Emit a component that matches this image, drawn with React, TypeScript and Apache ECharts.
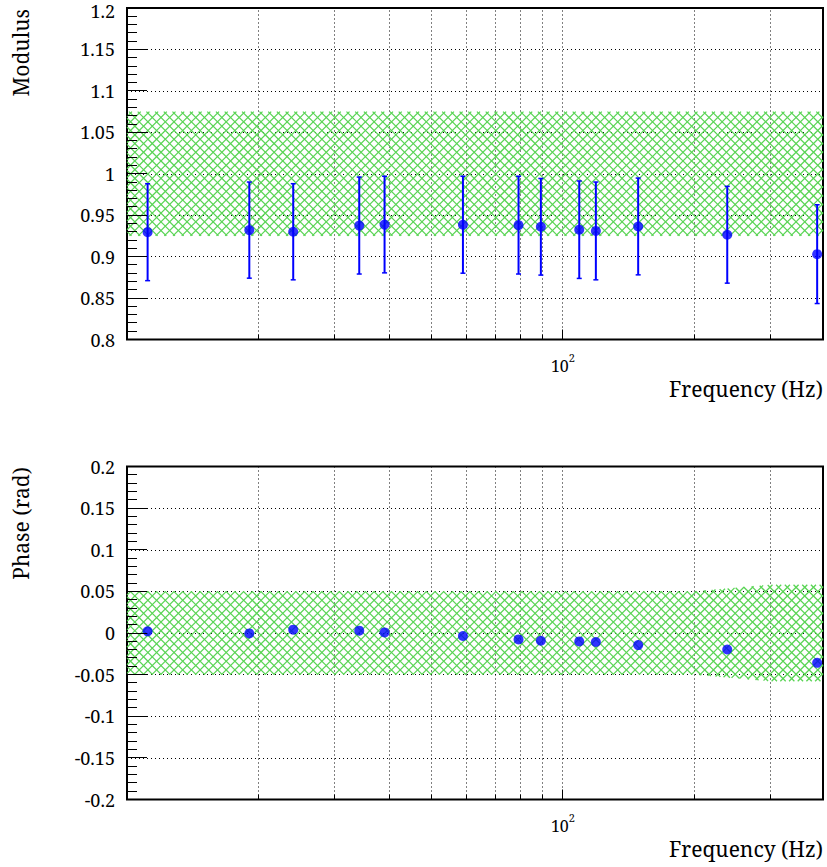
import React, { useEffect, useRef } from 'react';
import * as echarts from 'echarts';

// ---------------- data ----------------
const freq = [11.15, 19.08, 24.06, 34.1, 38.98, 58.97, 79.1, 89.0, 109.0, 119.0, 148.8, 238.2, 383.0];
const modulus = [0.9295, 0.932, 0.930, 0.9375, 0.9387, 0.9385, 0.938, 0.936, 0.9325, 0.931, 0.9364, 0.9264, 0.903];
const modulusErr = [0.0585, 0.058, 0.058, 0.0585, 0.0583, 0.0585, 0.059, 0.0583, 0.0588, 0.059, 0.0584, 0.0584, 0.0596];
const phase = [0.002, -0.0005, 0.004, 0.0028, 0.0007, -0.0036, -0.0077, -0.0093, -0.0101, -0.0108, -0.0145, -0.0198, -0.0358];

const modBandFreq = [10, 395];
const modBandLow = [0.925, 0.925];
const modBandHigh = [1.075, 1.075];

const phaseBandFreq = [10, 200, 300, 395];
const phaseBandLow = [-0.05, -0.05, -0.058, -0.058];
const phaseBandHigh = [0.05, 0.05, 0.058, 0.058];

const gridFreq = [20, 30, 40, 50, 60, 70, 80, 90, 100, 200, 300];
const majorFreq = [100];

const xMin = 10;
const xMax = 395;
const modYMin = 0.8;
const modYMax = 1.2;
const phaseYMin = -0.2;
const phaseYMax = 0.2;
const yInterval = 0.05;
const yMinorSteps = 5;

const xTitle = 'Frequency (Hz)';
const modTitle = 'Modulus';
const phaseTitle = 'Phase (rad)';

// ---------------- styles ----------------
const FONT = 'Noto Serif';
const BLUE = '#0000ff';
const HATCH = '#59d454';
const HATCH_STEP = 8.7;

function fmt(v: number) {
  return String(parseFloat(v.toFixed(3)));
}

function evalAt(pts: number[][], x: number) {
  const n = pts.length;
  if (x <= pts[0][0]) return pts[0][1];
  if (x >= pts[n - 1][0]) return pts[n - 1][1];
  for (let k = 0; k < n - 1; k++) {
    const a = pts[k];
    const b = pts[k + 1];
    if (x <= b[0]) {
      const t = (x - a[0]) / (b[0] - a[0] || 1);
      return a[1] + t * (b[1] - a[1]);
    }
  }
  return pts[n - 1][1];
}

function rootInc(fn: (x: number) => number, lo: number, hi: number) {
  let a = lo;
  let b = hi;
  for (let i = 0; i < 60; i++) {
    const m = (a + b) / 2;
    if (fn(m) > 0) b = m;
    else a = m;
  }
  return (a + b) / 2;
}

function hatchLines(top: number[][], bot: number[][]) {
  const x0 = top[0][0];
  const x1 = top[top.length - 1][0];
  const T = (x: number) => evalAt(top, x);
  const B = (x: number) => evalAt(bot, x);
  const ys = top.map((p) => p[1]).concat(bot.map((p) => p[1]));
  const yMinPx = Math.min(...ys);
  const yMaxPx = Math.max(...ys);
  const lo = x0 - 3000;
  const hi = x1 + 3000;
  const out: number[][] = [];
  const d = HATCH_STEP;
  for (let k = Math.floor((yMinPx - x1) / d); k <= Math.ceil((yMaxPx - x0) / d); k++) {
    const c = k * d;
    const xT = rootInc((x) => x + c - T(x), lo, hi);
    const xB = rootInc((x) => x + c - B(x), lo, hi);
    const s = Math.max(x0, xT);
    const e = Math.min(x1, xB);
    if (e > s) out.push([s, s + c, e, e + c]);
  }
  for (let k = Math.floor((yMinPx + x0) / d); k <= Math.ceil((yMaxPx + x1) / d); k++) {
    const c = k * d;
    const xT = rootInc((x) => T(x) + x - c, lo, hi);
    const xB = rootInc((x) => B(x) + x - c, lo, hi);
    const s = Math.max(x0, xB);
    const e = Math.min(x1, xT);
    if (e > s) out.push([s, -s + c, e, -e + c]);
  }
  return out;
}

const crisp = (v: number) => Math.round(v - 0.5) + 0.5;

export default function App() {
  const ref = useRef<HTMLDivElement>(null);

  useEffect(() => {
    if (!ref.current) return;
    const chart = echarts.init(ref.current, null, { renderer: 'svg' });

    const grids = [
      { left: 127, top: 8, width: 696, height: 331.5 },
      { left: 127, top: 466.5, width: 696, height: 333 },
    ];
    const yRanges = [
      [modYMin, modYMax],
      [phaseYMin, phaseYMax],
    ];

    const xAxes = grids.map((_, i) => ({
      type: 'log',
      logBase: 10,
      gridIndex: i,
      min: xMin,
      max: xMax,
      axisLine: { show: false, onZero: false },
      axisTick: { show: false },
      splitLine: { show: false },
      minorTick: { show: false },
      axisLabel: {
        margin: 12.5,
        formatter: (v: number) => (Math.abs(Math.log10(v) - 2) < 1e-6 ? '{a|10}{b|2}' : ''),
        rich: {
          a: { fontFamily: FONT, fontSize: 16, color: '#000', verticalAlign: 'bottom', padding: [6, 0, 0, 0] },
          b: { fontFamily: FONT, fontSize: 11, color: '#000', verticalAlign: 'top' },
        },
      },
    }));

    const yAxes = grids.map((_, i) => ({
      type: 'value',
      gridIndex: i,
      min: yRanges[i][0],
      max: yRanges[i][1],
      interval: yInterval,
      axisLine: { show: false },
      axisTick: { show: false },
      minorTick: { show: false },
      splitLine: { show: true, lineStyle: { color: '#000', width: 1, type: [1, 3] } },
      minorSplitLine: { show: false },
      axisLabel: {
        fontFamily: FONT,
        fontSize: 18,
        color: '#000',
        margin: 12,
        formatter: (v: number) =>
          i === 0 && Math.abs(v - yRanges[i][1]) < 1e-9 ? '{t|' + fmt(v) + '}' : fmt(v),
        rich: {
          t: { fontFamily: FONT, fontSize: 18, color: '#000', padding: [6, 0, 0, 0] },
        },
      },
    }));

    const gridSeries = (i: number) => ({
      type: 'custom',
      xAxisIndex: i,
      yAxisIndex: i,
      z: 1,
      silent: true,
      data: gridFreq.map((f) => [f, yRanges[i][0], yRanges[i][1]]),
      encode: { x: 0, y: [1, 2] },
      renderItem: (params: any, api: any) => {
        const f = api.value(0);
        const bot = api.coord([f, api.value(1)]);
        const top = api.coord([f, api.value(2)]);
        const x = crisp(bot[0]);
        const len = majorFreq.indexOf(f) >= 0 ? 10 : 5;
        return {
          type: 'group',
          children: [
            {
              type: 'line',
              shape: { x1: x, y1: bot[1], x2: x, y2: top[1] },
              style: { stroke: '#000', lineWidth: 1, lineDash: [1, 3] },
            },
            {
              type: 'line',
              shape: { x1: x, y1: bot[1], x2: x, y2: bot[1] - len },
              style: { stroke: '#000', lineWidth: 1 },
            },
          ],
        };
      },
    });

    // y ticks (major every interval, minor subdivisions)
    const yTickSeries = (i: number) => {
      const [a, b] = yRanges[i];
      const step = yInterval / yMinorSteps;
      const n = Math.round((b - a) / step);
      const vals: number[][] = [];
      for (let k = 0; k <= n; k++) vals.push([xMin, a + k * step, k % yMinorSteps === 0 ? 1 : 0]);
      return {
        type: 'custom',
        xAxisIndex: i,
        yAxisIndex: i,
        z: 5,
        silent: true,
        data: vals,
        encode: { x: 0, y: 1 },
        renderItem: (params: any, api: any) => {
          const p = api.coord([api.value(0), api.value(1)]);
          const len = api.value(2) ? 20 : 10;
          const y = crisp(p[1]);
          return {
            type: 'line',
            shape: { x1: p[0], y1: y, x2: p[0] + len, y2: y },
            style: { stroke: '#000', lineWidth: 1 },
          };
        },
      };
    };

    const bandSeries = (i: number, bx: number[], lo: number[], hi: number[]) => ({
      type: 'custom',
      xAxisIndex: i,
      yAxisIndex: i,
      z: 2,
      silent: true,
      data: bx.map((f, k) => [f, lo[k], hi[k]]),
      encode: { x: 0, y: [1, 2] },
      renderItem: (params: any, api: any) => {
        if (params.dataIndex !== 0) return null;
        const n = bx.length;
        const topPts: number[][] = [];
        const botPts: number[][] = [];
        for (let k = 0; k < n; k++) {
          topPts.push(api.coord([api.value(0, k), api.value(2, k)]));
          botPts.push(api.coord([api.value(0, k), api.value(1, k)]));
        }
        const segs = hatchLines(topPts, botPts);
        return {
          type: 'group',
          children: segs.map((s) => ({
            type: 'line',
            shape: { x1: s[0], y1: s[1], x2: s[2], y2: s[3] },
            style: { stroke: HATCH, lineWidth: 1.3 },
          })),
        };
      },
    });

    const errSeries = {
      type: 'custom',
      xAxisIndex: 0,
      yAxisIndex: 0,
      z: 3,
      silent: true,
      data: freq.map((f, k) => [f, modulus[k] - modulusErr[k], modulus[k] + modulusErr[k]]),
      encode: { x: 0, y: [1, 2] },
      renderItem: (params: any, api: any) => {
        const f = api.value(0);
        const a = api.coord([f, api.value(1)]);
        const b = api.coord([f, api.value(2)]);
        const st = { stroke: BLUE, lineWidth: 2 };
        const cap = { stroke: BLUE, lineWidth: 1.5 };
        return {
          type: 'group',
          children: [
            { type: 'line', shape: { x1: a[0], y1: a[1], x2: b[0], y2: b[1] }, style: st },
            { type: 'line', shape: { x1: a[0] - 2.5, y1: a[1], x2: a[0] + 2.5, y2: a[1] }, style: cap },
            { type: 'line', shape: { x1: b[0] - 2.5, y1: b[1], x2: b[0] + 2.5, y2: b[1] }, style: cap },
          ],
        };
      },
    };

    const txt = (text: string, x: number, y: number, rot: number) => ({
      type: 'text',
      x,
      y,
      rotation: rot,
      style: { text, fontFamily: FONT, fontSize: 21, fill: '#000', align: 'right', verticalAlign: 'middle' },
    });

    const option: any = {
      animation: false,
      backgroundColor: '#fff',
      grid: grids.map((g) => ({ ...g, show: true, borderColor: '#000', borderWidth: 2, backgroundColor: 'transparent' })),
      xAxis: xAxes,
      yAxis: yAxes,
      series: [
        gridSeries(0),
        gridSeries(1),
        yTickSeries(0),
        yTickSeries(1),
        bandSeries(0, modBandFreq, modBandLow, modBandHigh),
        bandSeries(1, phaseBandFreq, phaseBandLow, phaseBandHigh),
        errSeries,
        {
          type: 'scatter',
          xAxisIndex: 0,
          yAxisIndex: 0,
          z: 4,
          symbol: 'circle',
          symbolSize: 10,
          itemStyle: { color: BLUE },
          data: freq.map((f, k) => [f, modulus[k]]),
        },
        {
          type: 'scatter',
          xAxisIndex: 1,
          yAxisIndex: 1,
          z: 4,
          symbol: 'circle',
          symbolSize: 10,
          itemStyle: { color: BLUE },
          data: freq.map((f, k) => [f, phase[k]]),
        },
      ],
      graphic: [
        txt(modTitle, 21, 9, Math.PI / 2),
        txt(phaseTitle, 21, 467, Math.PI / 2),
        txt(xTitle, 823, 389, 0),
        txt(xTitle, 823, 849, 0),
      ],
    };

    chart.setOption(option);
    return () => chart.dispose();
  }, []);

  return <div ref={ref} style={{ position: 'fixed', left: 0, top: 0, width: 827, height: 867 }} />;
}
